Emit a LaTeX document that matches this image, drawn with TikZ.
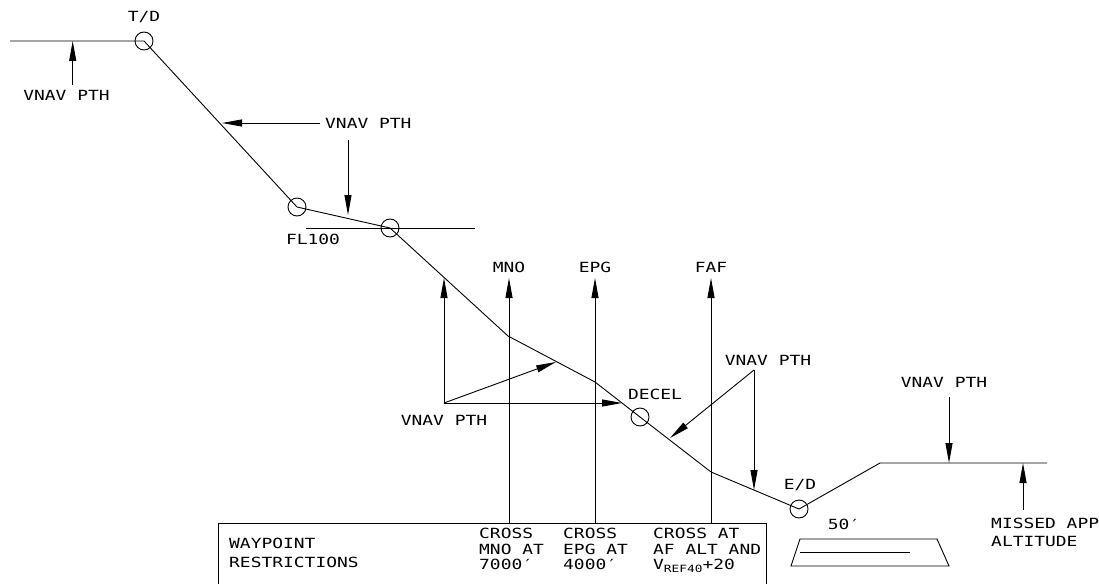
\documentclass[tikz,border=0pt]{standalone}
\usepackage{fontspec}
\newfontfamily\cadfont[FakeStretch=1.28]{DejaVu Sans Mono}
\usetikzlibrary{arrows.meta}
\tikzset{
  ln/.style={line width=0.9pt, black},
  arr/.style={ln, -{Triangle[length=20pt,width=7pt]}},
  wpt/.style={circle, draw, line width=0.9pt, minimum size=18pt, inner sep=0pt},
  lbl/.style={font=\cadfont\fontsize{14}{15.5}\selectfont, inner sep=0pt},
}
\begin{document}
\begin{tikzpicture}[x=1pt,y=-1pt]
\useasboundingbox (0,0) rectangle (1099,583);
% waypoint circles
\node[wpt] (td) at (144,41) {};
\node[wpt] (fla) at (297,207) {};
\node[wpt] (flb) at (390,228) {};
\node[wpt] (decel) at (640,417) {};
\node[wpt] (ed) at (799,509) {};
% path points
\coordinate (h0) at (10,41);
\coordinate (k1) at (508,336);
\coordinate (k2) at (595,382);
\coordinate (k3) at (711,472);
\coordinate (c1) at (880,463);
\coordinate (c2) at (1047,463);
\draw[ln] (h0) -- (td.center) -- (fla.center) -- (flb.center) -- (k1) -- (k2) -- (decel.center) -- (k3) -- (ed.center) -- (c1) -- (c2);
% FL100 line
\coordinate (fl0) at (306,228);
\coordinate (fl1) at (475,228);
\draw[ln] (fl0) -- (fl1);
% labels
\node[lbl] (tdl) at (144,17) {T/D};
\node[lbl] (fll) at (313,239) {FL100};
\node[lbl] (decl) at (655,394) {DECEL};
\node[lbl] (edl) at (800,485) {E/D};
\node[lbl] (mnol) at (509,267) {MNO};
\node[lbl] (epgl) at (595,267) {EPG};
\node[lbl] (fafl) at (711,267) {FAF};
% VNAV PTH 1
\node[lbl] (v1) at (66.5,95) {VNAV PTH};
\coordinate (v1s) at (72.7,85);
\coordinate (v1t) at (72.7,41);
\draw[arr] (v1s) -- (v1t);
% VNAV PTH 2
\node[lbl, anchor=west] (v2) at (325,123) {VNAV PTH};
\coordinate (v2s) at (320,123);
\coordinate (v2t) at (222,123);
\draw[arr] (v2s) -- (v2t);
\coordinate (v2d) at (348,140);
\coordinate (v2dt) at (348,215);
\draw[arr] (v2d) -- (v2dt);
% VNAV PTH 3
\node[lbl] (v3) at (444,420) {VNAV PTH};
\coordinate (v3s) at (444,403);
\coordinate (v3a) at (444,278);
\coordinate (v3b) at (556,362);
\coordinate (v3c) at (622,403);
\draw[arr] (v3s) -- (v3a);
\draw[arr] (v3s) -- (v3b);
\draw[arr] (v3s) -- (v3c);
% VNAV PTH 4
\node[lbl] (v4) at (768,360) {VNAV PTH};
\coordinate (v4s) at (754,370);
\coordinate (v4a) at (670,438);
\coordinate (v4b) at (754,490);
\draw[arr] (v4s) -- (v4a);
\draw[arr] (v4s) -- (v4b);
% VNAV PTH 5
\node[lbl] (v5) at (944,382) {VNAV PTH};
\coordinate (v5s) at (949,397);
\coordinate (v5t) at (949,463);
\draw[arr] (v5s) -- (v5t);
% Missed approach
\node[lbl, anchor=west, align=left, font=\cadfont\fontsize{14}{18}\selectfont] (ma) at (991,532) {MISSED APP\\ALTITUDE};
\coordinate (mas) at (1023,510);
\coordinate (mat) at (1023,463);
\draw[arr] (mas) -- (mat);
% restrictions box
\coordinate (bx0) at (218,523);
\coordinate (bx1) at (766,590);
\draw[ln] (bx0) rectangle (bx1);
\coordinate (mnob) at (509,523);
\coordinate (mnot) at (509,278);
\coordinate (epgb) at (595,523);
\coordinate (epgt) at (595,278);
\coordinate (fafb) at (711,523);
\coordinate (faft) at (711,278);
\draw[arr] (mnob) -- (mnot);
\draw[arr] (epgb) -- (epgt);
\draw[arr] (fafb) -- (faft);
\node[lbl, anchor=west, align=left, font=\cadfont\fontsize{14}{19}\selectfont] (wr) at (229,553) {WAYPOINT\\RESTRICTIONS};
\node[lbl, anchor=north west, align=left] (r1) at (479,528) {CROSS\\MNO AT\\7000′};
\node[lbl, anchor=north west, align=left] (r2) at (563,528) {CROSS\\EPG AT\\4000′};
\node[lbl, anchor=north west, align=left] (r3) at (653,528) {CROSS AT\\AF ALT AND\\V\raisebox{-3pt}{\fontsize{10}{10}\selectfont REF40}+20};
% runway
\coordinate (rw1) at (800,539);
\coordinate (rw2) at (937,539);
\coordinate (rw3) at (949,566);
\coordinate (rw4) at (791,566);
\draw[ln] (rw1) -- (rw2) -- (rw3) -- (rw4) -- cycle;
\coordinate (rwa) at (800,552);
\coordinate (rwb) at (910,552);
\draw[ln] (rwa) -- (rwb);
\node[lbl] (fifty) at (844,524) {50′};
\end{tikzpicture}
\end{document}
